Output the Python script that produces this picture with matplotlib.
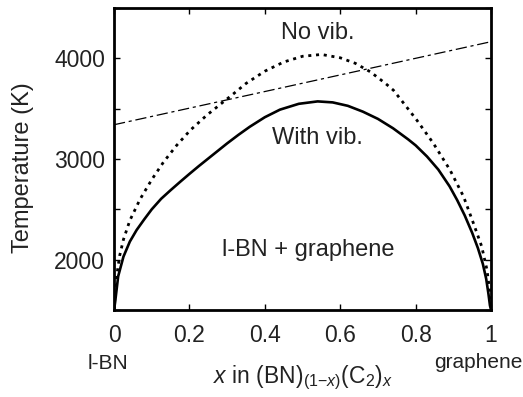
import matplotlib
matplotlib.use("Agg")
import matplotlib.pyplot as plt
from matplotlib.ticker import MultipleLocator

plt.rcParams['font.family'] = ['Liberation Sans', 'DejaVu Sans']
plt.rcParams['mathtext.fontset'] = 'custom'
plt.rcParams['mathtext.rm'] = 'Liberation Sans'
plt.rcParams['mathtext.it'] = 'Liberation Sans:italic'
plt.rcParams['text.color'] = '#222222'
plt.rcParams['xtick.labelcolor'] = '#222222'
plt.rcParams['ytick.labelcolor'] = '#222222'

# with vibrations (solid)
x_vib = [0, 0.003, 0.011, 0.025, 0.042, 0.06, 0.08, 0.10, 0.125, 0.15, 0.175,
         0.20, 0.225, 0.25, 0.275, 0.30, 0.33, 0.36, 0.40, 0.44, 0.49, 0.54,
         0.58, 0.62, 0.66, 0.70, 0.74, 0.78, 0.80, 0.83, 0.86, 0.89, 0.91,
         0.93, 0.95, 0.965, 0.978, 0.987, 0.993, 0.997, 1.0]
t_vib = [1500, 1580, 1835, 2030, 2180, 2295, 2400, 2500, 2605, 2690, 2772,
         2852, 2930, 3005, 3080, 3155, 3240, 3320, 3415, 3490, 3548, 3572,
         3562, 3528, 3470, 3398, 3305, 3195, 3135, 3025, 2895, 2728, 2592,
         2440, 2265, 2115, 1960, 1810, 1660, 1545, 1500]

# without vibrations (dotted)
x_novib = [0, 0.003, 0.007, 0.015, 0.025, 0.042, 0.069, 0.10, 0.131, 0.166,
           0.202, 0.246, 0.29, 0.316, 0.35, 0.40, 0.45, 0.50, 0.55, 0.60, 0.64,
           0.68, 0.72, 0.741, 0.77, 0.803, 0.847, 0.891, 0.927, 0.953, 0.975,
           0.989, 0.996, 1.0]
t_novib = [1500, 1660, 1835, 2040, 2200, 2390, 2600, 2795, 2968, 3135,
           3285, 3435, 3567, 3645, 3750, 3872, 3963, 4020, 4038, 4005, 3950,
           3865, 3750, 3683, 3545, 3386, 3155, 2891, 2627, 2363, 2132,
           1901, 1700, 1500]

# dash-dot line
x_line = [0, 1]
t_line = [3340, 4165]

fig = plt.figure(figsize=(5.23, 3.97), dpi=100)
ax = fig.add_axes([0.218, 0.219, 0.721, 0.761])

ax.plot(x_vib, t_vib, color='black', lw=1.9)
ax.plot(x_novib, t_novib, color='black', lw=2.0, dashes=(1.1, 1.7))
ax.plot(x_line, t_line, color='black', lw=0.9, dashes=(9, 3, 2.5, 3))

ax.set_xlim(0, 1)
ax.set_ylim(1500, 4500)
ax.set_xticks([0, 0.2, 0.4, 0.6, 0.8, 1.0], ['0', '0.2', '0.4', '0.6', '0.8', '1'])
ax.set_yticks([2000, 3000, 4000])
ax.yaxis.set_minor_locator(MultipleLocator(500))
ax.tick_params(which='both', direction='in', top=True, right=True,
               length=4, width=1, labelsize=16.5)
ax.tick_params(axis='x', pad=10)
ax.tick_params(axis='y', pad=6.5)
for s in ax.spines.values():
    s.set_linewidth(2)

ax.text(0.54, 4250, 'No vib.', ha='center', va='center', fontsize=17)
ax.text(0.54, 3210, 'With vib.', ha='center', va='center', fontsize=17)
ax.text(0.515, 2100, 'l-BN + graphene', ha='center', va='center', fontsize=17)

fig.text(23 / 523, 1 - 168 / 397, 'Temperature (K)', rotation=90,
         ha='center', va='center', fontsize=17)
fig.text(302.5 / 523, 1 - 383 / 397,
         r'$x$ in (BN)$_{(1\mathrm{-}x)}$(C$_2$)$_x$',
         ha='center', va='baseline', fontsize=16.5)

fig.text(108 / 523, 1 - 369 / 397, 'l-BN', ha='center', va='baseline', fontsize=15)
fig.text(478 / 523, 1 - 368 / 397, 'graphene', ha='center', va='baseline', fontsize=15)

fig.savefig('out.png', dpi=100)
